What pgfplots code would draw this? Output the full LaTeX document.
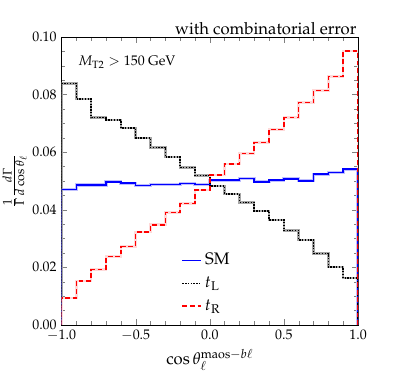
\documentclass[border=0pt]{standalone}
\usepackage[T1]{fontenc}
\usepackage{mathpazo}
\usepackage{pgfplots}
\usepackage{pgfplotstable}
\pgfplotsset{compat=1.18}

% bin edges; first and last rows close the histogram down to zero
\pgfplotstableread{
x     sm     tl     tr
-1.0  0      0      0
-1.0  0.0471 0.0839 0.0093
-0.9  0.0486 0.0785 0.0153
-0.8  0.0486 0.0720 0.0193
-0.7  0.0497 0.0712 0.0237
-0.6  0.0492 0.0683 0.0272
-0.5  0.0484 0.0650 0.0322
-0.4  0.0487 0.0616 0.0348
-0.3  0.0487 0.0583 0.0390
-0.2  0.0491 0.0547 0.0422
-0.1  0.0487 0.0519 0.0469
0.0   0.0503 0.0482 0.0521
0.1   0.0503 0.0454 0.0559
0.2   0.0509 0.0426 0.0595
0.3   0.0497 0.0396 0.0633
0.4   0.0503 0.0365 0.0679
0.5   0.0507 0.0328 0.0720
0.6   0.0500 0.0295 0.0772
0.7   0.0524 0.0248 0.0814
0.8   0.0530 0.0201 0.0862
0.9   0.0541 0.0163 0.0952
1.0   0.0541 0.0163 0.0952
1.0   0      0      0
}\hist

\begin{document}
\begin{tikzpicture}
\useasboundingbox (-44.3pt,-33.8pt) rectangle (243pt,234pt);
\begin{axis}[
    name=ax,
    scale only axis,
    width=213.5pt, height=207.4pt,
    xmin=-1, xmax=1, ymin=0, ymax=0.1,
    xtick={-1,-0.5,0,0.5,1},
    ytick={0,0.02,0.04,0.06,0.08,0.1},
    minor x tick num=4, minor y tick num=3,
    tick align=inside,
    xticklabel style={/pgf/number format/.cd, fixed, fixed zerofill, precision=1},
    yticklabel style={/pgf/number format/.cd, fixed, fixed zerofill, precision=2},
    scaled y ticks=false,
    xlabel={$\cos\theta_\ell^{\mathrm{maos}-b\ell}$},
    xlabel style={font=\large, yshift=1pt},
    ylabel={$\frac{1}{\Gamma}\frac{d\Gamma}{d\cos\theta_\ell}$},
    ylabel style={font=\large, yshift=-3pt},
    legend style={draw=none, fill=none, at={(0.39,0.02)}, anchor=south west,
        row sep=2pt, nodes={scale=1.2, transform shape}},
    legend cell align=left,
    legend image code/.code={\draw[#1] (0cm,0cm) -- (0.47cm,0cm);},
]
\addplot[const plot, blue!25, line width=2.2pt, forget plot] table[x=x, y=sm] {\hist};
\addplot[const plot, black!35, line width=1.8pt, forget plot] table[x=x, y=tl] {\hist};
\addplot[const plot, red!15, line width=1.8pt, forget plot] table[x=x, y=tr] {\hist};
\addplot[const plot, blue, line width=1.1pt] table[x=x, y=sm] {\hist};
\addlegendentry{SM}
\addplot[const plot, black, line width=1.1pt, dash pattern=on 1pt off 1pt] table[x=x, y=tl] {\hist};
\addlegendentry{$t_{\mathrm{L}}$}
\addplot[const plot, red, line width=1.1pt, dash pattern=on 3.5pt off 2pt] table[x=x, y=tr] {\hist};
\addlegendentry{$t_{\mathrm{R}}$}
\node[anchor=west] at (rel axis cs:0.04,0.913) {$M_{\mathrm{T2}} > 150$ GeV};
\end{axis}
\node[anchor=south east, inner sep=1pt] at (ax.north east) {\large with combinatorial error};
\end{tikzpicture}
\end{document}
